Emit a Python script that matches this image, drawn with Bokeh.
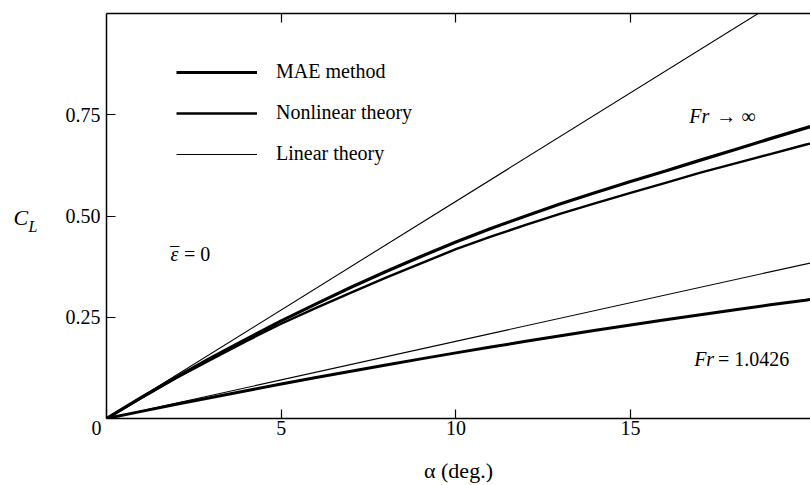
from bokeh.plotting import figure
from bokeh.layouts import row
from bokeh.models import Range1d, FixedTicker, LinearAxis, Label, Legend, LegendItem
from bokeh.embed import file_html
from bokeh.resources import INLINE

# ---- data ----
alpha = [0, 1, 2, 3, 4, 5, 6, 7, 8, 9, 10, 11, 12, 13, 14, 15, 16, 17, 18, 19, 20, 20.2]
mae_inf = [0, 0.052, 0.102, 0.150, 0.196, 0.241, 0.283, 0.324, 0.363, 0.400, 0.436,
           0.469, 0.500, 0.530, 0.558, 0.585, 0.611, 0.638, 0.664, 0.691, 0.717, 0.722]
nonlin_inf = [0, 0.051, 0.100, 0.146, 0.191, 0.234, 0.273, 0.311, 0.348, 0.383, 0.418,
              0.449, 0.478, 0.506, 0.532, 0.557, 0.582, 0.607, 0.630, 0.653, 0.676, 0.680]
mae_fr = [0, 0.0176, 0.035, 0.052, 0.0686, 0.085, 0.101, 0.1168, 0.1322, 0.1472, 0.162,
          0.1764, 0.1906, 0.2044, 0.2178, 0.231, 0.2438, 0.2564, 0.2686, 0.2806, 0.292, 0.2943]
alpha_lin = [0, 20.2]
lin_inf = [0, 1.083]
lin_fr = [0, 0.385]
x_ticks = [0, 5, 10, 15]
y_ticks = [0.25, 0.5, 0.75]
legend_labels = ["MAE method", "Nonlinear theory", "Linear theory"]

FONT = "Liberation Serif"
LEFT_W = 52

p = figure(width=810 - LEFT_W, height=485, x_range=Range1d(0, 20.15), y_range=Range1d(0, 1.0),
           output_backend="svg", toolbar_location=None,
           x_axis_location=None, y_axis_location=None,
           min_border_left=106 - LEFT_W, min_border_right=0, min_border_top=13, min_border_bottom=67)
p.outline_line_color = None
p.xgrid.visible = False
p.ygrid.visible = False
p.background_fill_color = "white"
p.border_fill_color = "white"

def style_axis(ax):
    ax.axis_line_width = 1.5
    ax.axis_line_color = "black"
    ax.major_tick_in = 9
    ax.major_tick_out = 0
    ax.minor_tick_in = 0
    ax.minor_tick_out = 0
    ax.major_tick_line_width = 1.2
    ax.major_tick_line_color = "black"
    ax.major_label_text_font = FONT
    ax.major_label_text_font_size = "20px"
    ax.major_label_text_color = "black"

xb = LinearAxis(ticker=FixedTicker(ticks=x_ticks))
style_axis(xb)
xb.major_label_standoff = -2
xb.major_label_overrides = {0: "0\u00a0\u00a0\u00a0\u00a0"}
xb.axis_label = "α (deg.)"
xb.axis_label_text_font = FONT
xb.axis_label_text_font_size = "22px"
xb.axis_label_text_font_style = "normal"
xb.axis_label_text_color = "black"
xb.axis_label_standoff = 16
p.add_layout(xb, "below")

xt = LinearAxis(ticker=FixedTicker(ticks=x_ticks[1:]))
style_axis(xt)
xt.major_label_overrides = {t: "" for t in x_ticks[1:]}
xt.major_label_standoff = 0
p.add_layout(xt, "above")

yl = LinearAxis(ticker=FixedTicker(ticks=y_ticks))
style_axis(yl)
yl.major_label_standoff = 6
yl.major_label_overrides = {0.25: "0.25", 0.5: "0.50", 0.75: "0.75"}
p.add_layout(yl, "left")

r_mae = p.line(alpha, mae_inf, line_color="black", line_width=3.2)
r_nl = p.line(alpha, nonlin_inf, line_color="black", line_width=2.4)
r_lin = p.line(alpha_lin, lin_inf, line_color="black", line_width=1.1)
p.line(alpha_lin, lin_fr, line_color="black", line_width=1.1)
p.line(alpha, mae_fr, line_color="black", line_width=3.0)

legend = Legend(items=[LegendItem(label=legend_labels[0], renderers=[r_mae]),
                       LegendItem(label=legend_labels[1], renderers=[r_nl]),
                       LegendItem(label=legend_labels[2], renderers=[r_lin])],
                location=(70, 253), padding=0, margin=0, spacing=18,
                glyph_width=81, glyph_height=20, label_height=20, label_standoff=19,
                label_text_font=FONT, label_text_font_size="20px", label_text_color="black",
                border_line_color=None, background_fill_alpha=0)
p.add_layout(legend, "center")

def lab(fig, x, y, text, size="20px", style="normal", align="left"):
    fig.add_layout(Label(x=x, y=y, text=text, text_font=FONT, text_font_size=size,
                         text_font_style=style, text_align=align, text_baseline="middle",
                         text_color="black"))

lab(p, 1.83, 0.407, "ε", style="italic")
lab(p, 1.95, 0.407, "¯", size="18px", align="center")
lab(p, 2.22, 0.407, "= 0")
lab(p, 16.68, 0.746, "Fr", style="italic")
lab(p, 17.45, 0.746, "→ ∞")
lab(p, 16.82, 0.148, "Fr", style="italic")
lab(p, 17.5, 0.148, "= 1.0426")

# narrow left panel holding the C_L axis title
q = figure(frame_width=LEFT_W, frame_height=485, x_range=Range1d(0, LEFT_W), y_range=Range1d(0, 485),
           output_backend="svg", toolbar_location=None, title=None,
           x_axis_location=None, y_axis_location=None,
           min_border=0)
q.outline_line_color = None
q.xgrid.visible = False
q.ygrid.visible = False
q.border_fill_color = "white"
lab(q, 13, 281, "C", size="22px", style="italic")
lab(q, 28, 272, "L", size="16px", style="italic")

layout = row(q, p, spacing=0)
open("out.html", "w").write(file_html(layout, INLINE))
